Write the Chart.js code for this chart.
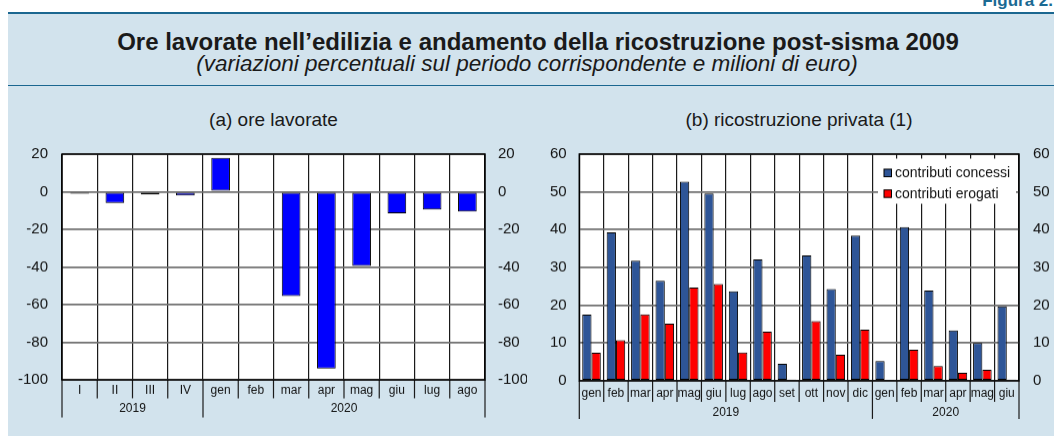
<!DOCTYPE html>
<html lang="it">
<head>
<meta charset="utf-8">
<title>Figura 2</title>
<script src="https://cdn.jsdelivr.net/npm/chart.js@4.4.1/dist/chart.umd.min.js"></script>
<style>
  body {
    margin: 0;
    width: 1054px;
    height: 436px;
    overflow: hidden;
    position: relative;
    background: #fff;
    font-family: "Liberation Sans", Arial, sans-serif;
    color: #1a1a1a;
  }
  #figLabel { position: absolute; right: 1px; top: -9px; font-weight: bold; font-size: 17px; color: #1b6a93; }
  #panel { position: absolute; left: 8px; top: 12px; right: 0; bottom: 0; background: #d2e3ed; border-top: 2px solid #1b6790; }
  #rule { position: absolute; left: 8px; right: 0; top: 85px; border-top: 1.5px solid #1b6790; }
  .center { position: absolute; text-align: center; white-space: nowrap; }
  #title { left: 22px; right: 0; top: 28px; font-size: 24px; line-height: 28px; font-weight: bold; }
  #subtitle { left: 0; right: 0; top: 52px; font-size: 22.5px; line-height: 24px; font-style: italic; }
  .ptitle { top: 109px; font-size: 19px; line-height: 22px; }
  .box { position: absolute; top: 131.3px; width: 527px; height: 304.7px; }
</style>
</head>
<body>
<div id="figLabel">Figura 2.</div>
<div id="panel"></div>
<div id="rule"></div>
<div id="title" class="center">Ore lavorate nell’edilizia e andamento della ricostruzione post-sisma 2009</div>
<div id="subtitle" class="center">(variazioni percentuali sul periodo corrispondente e milioni di euro)</div>
<div class="center ptitle" style="left:62px;width:423px">(a) ore lavorate</div>
<div class="center ptitle" style="left:579px;width:440px">(b) ricostruzione privata (1)</div>
<div class="box" style="left:0"><canvas id="chartOre"></canvas></div>
<div class="box" style="left:527px"><canvas id="chartRic"></canvas></div>

<script>
// (a) ore lavorate - variazioni percentuali
const oreLabels = ['I', 'II', 'III', 'IV', 'gen', 'feb', 'mar', 'apr', 'mag', 'giu', 'lug', 'ago'];
const oreValues = [-1, -6, -1.5, -2, 18, -0.5, -55.5, -94, -39.5, -11.5, -9.5, -10.5];
const oreYears = ['2019', '2020'];
const oreYearStart = [0, 4];

// (b) ricostruzione privata - milioni di euro
const ricLabels = ['gen', 'feb', 'mar', 'apr', 'mag', 'giu', 'lug', 'ago', 'set', 'ott', 'nov', 'dic',
                   'gen', 'feb', 'mar', 'apr', 'mag', 'giu'];
const concessi = [17.5, 39.3, 31.8, 26.5, 52.7, 49.6, 23.7, 32.1, 4.5, 33.2, 24.3, 38.4, 5.2, 40.7, 23.9, 13.3, 10.0, 19.7];
const erogati = [7.4, 10.7, 17.6, 15.1, 24.7, 25.6, 7.5, 13.0, 0.3, 15.8, 6.9, 13.5, 0.1, 8.2, 3.9, 2.1, 2.9, 0.3];
const ricYears = ['2019', '2020'];
const ricYearStart = [0, 12];

const FONT = '"Liberation Sans", Arial, sans-serif';
Chart.defaults.font.family = FONT;
Chart.defaults.color = '#111';

// white plot area, category separators under the axis, year labels, frame, legend
const plotDecor = {
  id: 'plotDecor',
  beforeDraw(chart) {
    const a = chart.chartArea, ctx = chart.ctx;
    ctx.save();
    ctx.fillStyle = '#fff';
    ctx.fillRect(a.left, a.top, a.right - a.left, a.bottom - a.top);
    ctx.restore();
  },
  afterDraw(chart, args, opts) {
    const a = chart.chartArea, ctx = chart.ctx, x = chart.scales.x;
    const n = chart.data.labels.length;
    ctx.save();
    ctx.strokeStyle = '#1a1a1a';
    ctx.lineWidth = 1.2;
    for (let i = 0; i <= n; i++) {
      const px = x.getPixelForValue(i - 0.5);
      const big = i === n || opts.starts.includes(i);
      ctx.beginPath();
      ctx.moveTo(px, a.bottom);
      ctx.lineTo(px, a.bottom + (big ? opts.long : opts.short));
      ctx.stroke();
    }
    ctx.fillStyle = '#111';
    ctx.font = '12px ' + FONT;
    ctx.textAlign = 'center';
    ctx.textBaseline = 'middle';
    opts.years.forEach((yr, k) => {
      const s = opts.starts[k];
      const e = k + 1 < opts.starts.length ? opts.starts[k + 1] : n;
      const cx = (x.getPixelForValue(s - 0.5) + x.getPixelForValue(e - 0.5)) / 2;
      ctx.fillText(yr, cx, a.bottom + opts.yearY);
    });
    ctx.strokeStyle = '#000';
    ctx.lineWidth = 1.5;
    ctx.strokeRect(a.left, a.top, a.right - a.left, a.bottom - a.top);

    if (opts.legend) {
      const bx = a.right - 141, by = a.top + 4.5, bw = 138, bh = 45;
      ctx.fillStyle = '#fff';
      ctx.fillRect(bx, by, bw, bh);
      ctx.font = '14px ' + FONT;
      ctx.textAlign = 'left';
      chart.data.datasets.forEach((ds, k) => {
        const cy = by + 14 + k * 20.7;
        ctx.fillStyle = ds.backgroundColor;
        ctx.fillRect(bx + 6, cy - 3.5, 7.5, 7.5);
        ctx.strokeStyle = '#000';
        ctx.lineWidth = 1;
        ctx.strokeRect(bx + 6, cy - 3.5, 7.5, 7.5);
        ctx.fillStyle = '#111';
        ctx.fillText(ds.label, bx + 17, cy + 1);
      });
    }
    ctx.restore();
  }
};

function makeScales(min, max, step, leftW, rightW, xH, xPad, leftPad, rightPad) {
  return {
    x: {
      offset: true,
      grid: { color: '#1a1a1a', lineWidth: 1.2, drawTicks: false, offset: true },
      border: { display: false },
      ticks: { autoSkip: false, maxRotation: 0, minRotation: 0, padding: xPad, font: { size: 12 } },
      afterFit(s) { s.height = xH; }
    },
    y: {
      position: 'left', min: min, max: max,
      grid: { color: '#707070', lineWidth: 1.8, drawTicks: false },
      border: { display: false },
      ticks: { stepSize: step, padding: leftPad, font: { size: 15 } },
      afterFit(s) { s.width = leftW; }
    },
    y2: {
      position: 'right', min: min, max: max,
      grid: { display: false, drawTicks: false },
      border: { display: false },
      ticks: { stepSize: step, padding: rightPad, font: { size: 15 } },
      afterFit(s) { s.width = rightW; }
    }
  };
}

new Chart(document.getElementById('chartOre'), {
  type: 'bar',
  data: {
    labels: oreLabels,
    datasets: [{
      label: 'ore lavorate',
      data: oreValues,
      backgroundColor: '#0000ff',
      borderColor: '#000',
      borderWidth: 1,
      borderSkipped: false,
      barPercentage: 0.53,
      categoryPercentage: 1,
      yAxisID: 'y'
    }]
  },
  options: {
    responsive: true,
    maintainAspectRatio: false,
    animation: false,
    layout: { padding: { top: 4.6, left: 0, right: 0, bottom: 0 } },
    scales: makeScales(-100, 20, 20, 62, 42, 56.7, 3.5, 14, 13),
    plugins: {
      legend: { display: false },
      tooltip: { enabled: false },
      plotDecor: { years: oreYears, starts: oreYearStart, short: 18.4, long: 37.4, yearY: 29 }
    }
  },
  plugins: [plotDecor]
});

new Chart(document.getElementById('chartRic'), {
  type: 'bar',
  data: {
    labels: ricLabels,
    datasets: [{
      label: 'contributi concessi',
      data: concessi,
      backgroundColor: '#2e5597',
      borderColor: '#000',
      borderWidth: 1,
      borderSkipped: false,
      barPercentage: 1,
      categoryPercentage: 0.76,
      yAxisID: 'y'
    }, {
      label: 'contributi erogati',
      data: erogati,
      backgroundColor: '#ff0000',
      borderColor: '#000',
      borderWidth: 1,
      borderSkipped: false,
      barPercentage: 1,
      categoryPercentage: 0.76,
      yAxisID: 'y'
    }]
  },
  options: {
    responsive: true,
    maintainAspectRatio: false,
    animation: false,
    layout: { padding: { top: 4.6, left: 0, right: 0, bottom: 0 } },
    scales: makeScales(0, 60, 10, 52.3, 35, 55.8, 6, 12.6, 14),
    plugins: {
      legend: { display: false },
      tooltip: { enabled: false },
      plotDecor: { years: ricYears, starts: ricYearStart, short: 21, long: 38, yearY: 31.5, legend: true }
    }
  },
  plugins: [plotDecor]
});
</script>
</body>
</html>
